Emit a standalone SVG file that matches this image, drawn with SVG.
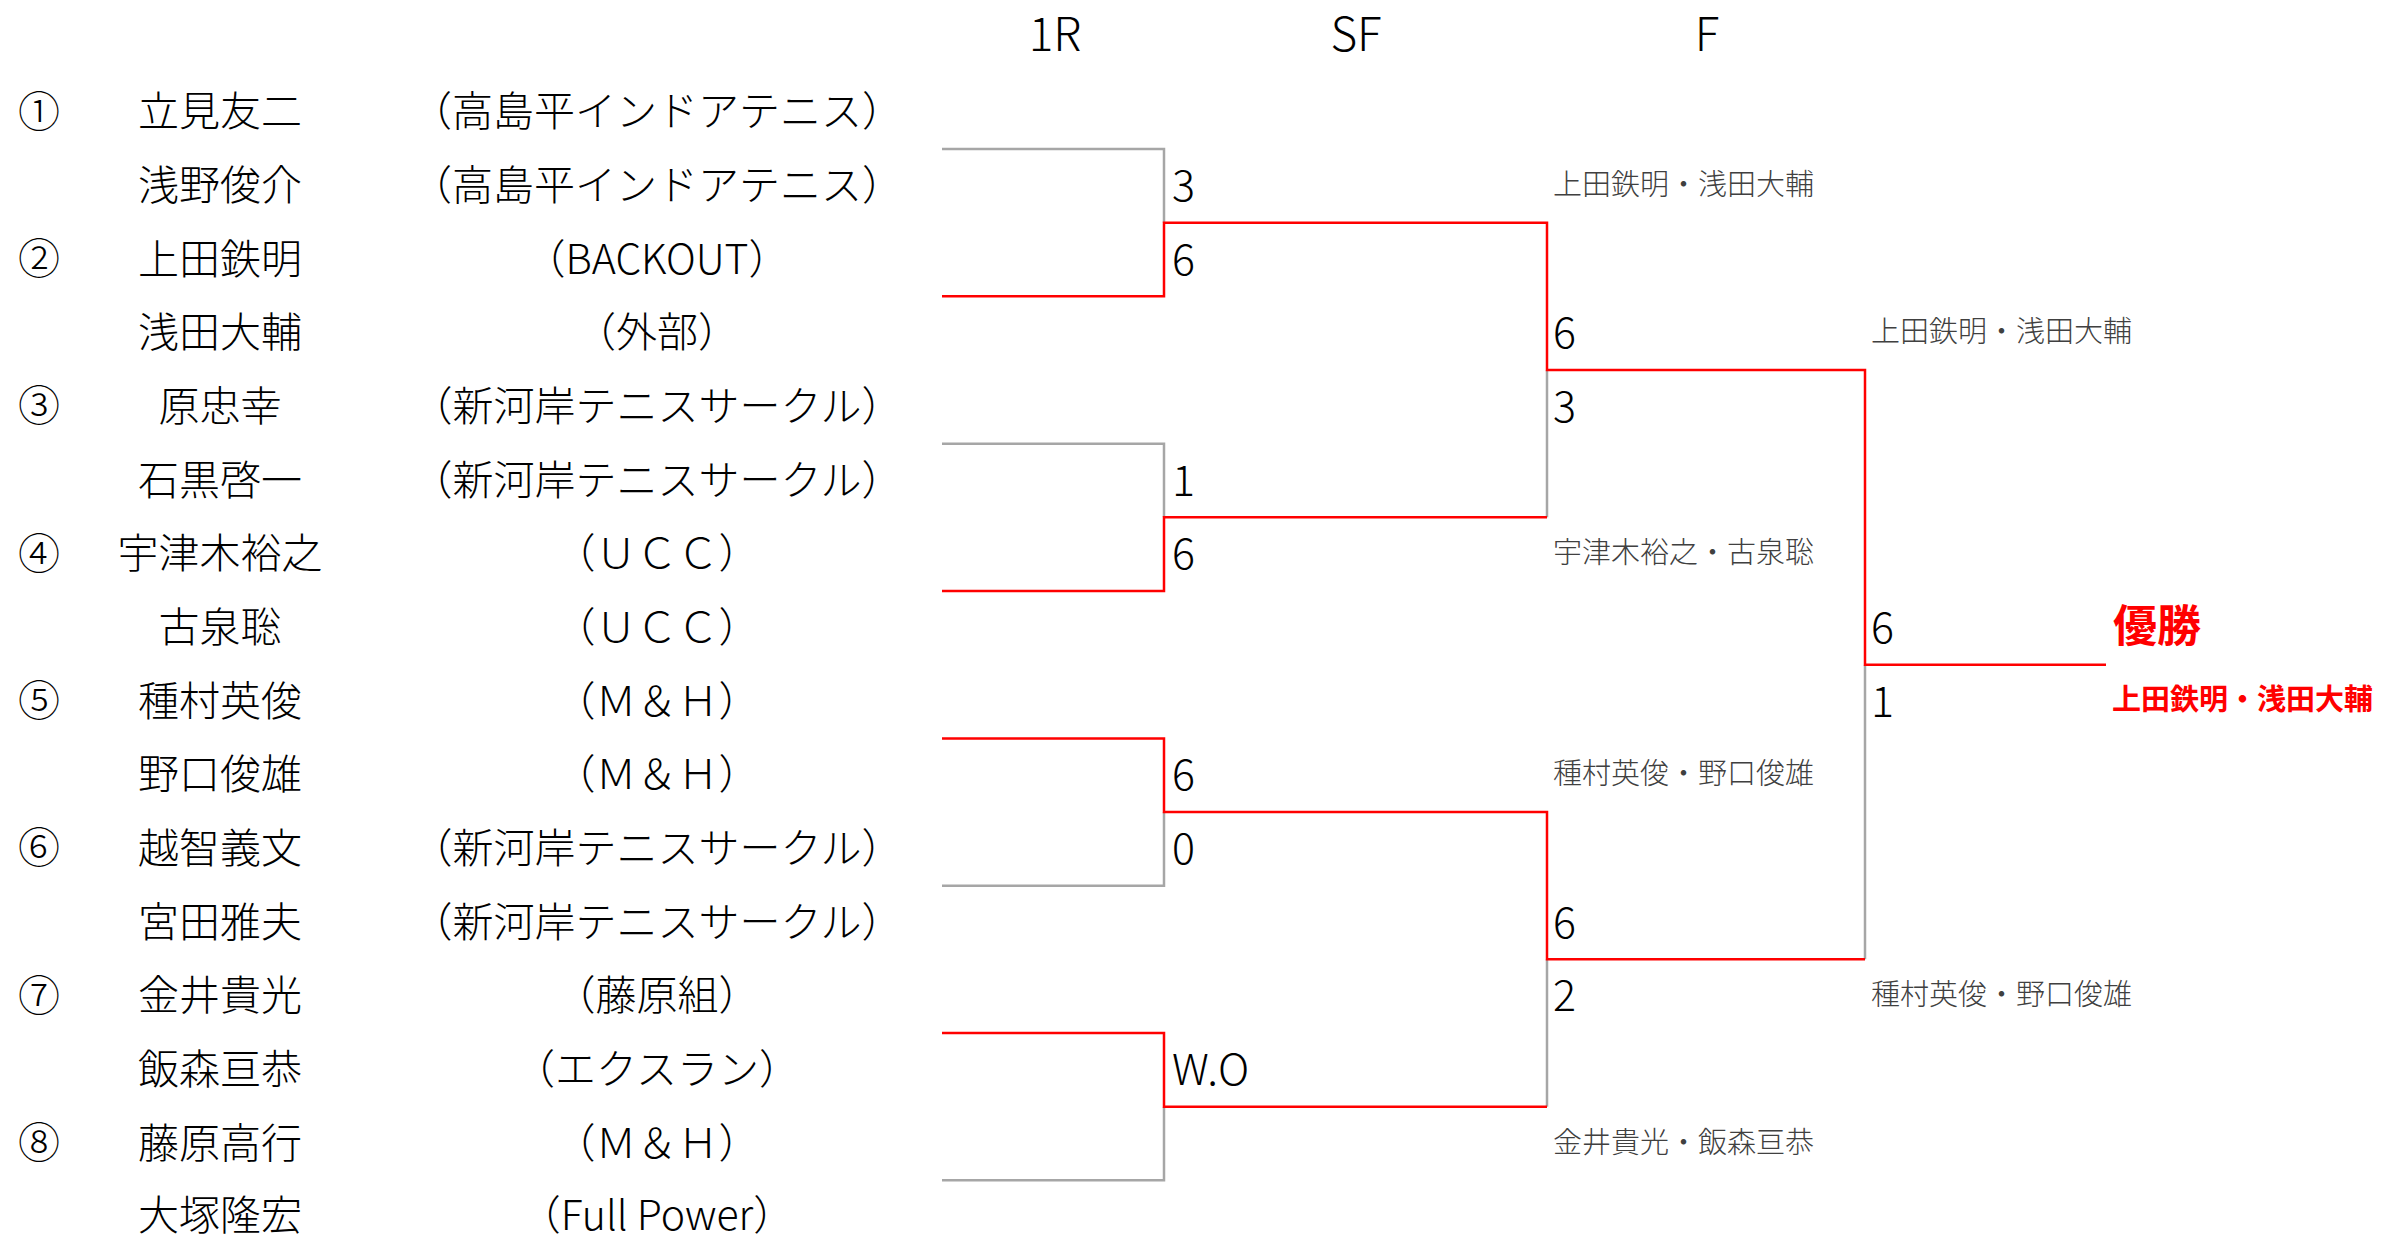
<svg xmlns="http://www.w3.org/2000/svg" width="2383" height="1240" viewBox="0 0 2383 1240">
<style>
text{font-family:"Noto Sans CJK JP","Noto Sans",sans-serif;dominant-baseline:central;fill:#000;font-weight:300}
.hd{font-size:46px;text-anchor:middle}
.seed{font-size:42px;text-anchor:middle}
.nm{font-size:41px;text-anchor:middle}
.tm{font-size:41px;text-anchor:middle}
.sc{font-size:43px}
.pr{font-size:29px;fill:#404040}
.win{font-size:44px;font-weight:bold;fill:#FF0000}
.winp{font-size:29px;font-weight:bold;fill:#FF0000}
.g{fill:none;stroke:#A6A6A6;stroke-width:2.5}
.r{fill:none;stroke:#FF0000;stroke-width:2.5}
</style>
<rect width="2383" height="1240" fill="#FFFFFF"/>
<g id="connectors">
<polyline class="g" points="942,149 1164,149 1164,222.7"/>
<polyline class="g" points="942,443.7 1164,443.7 1164,517.3"/>
<polyline class="g" points="1164,812 1164,885.7 942,885.7"/>
<polyline class="g" points="1164,1106.7 1164,1180.3 942,1180.3"/>
<polyline class="g" points="1547,370 1547,517.3"/>
<polyline class="g" points="1547,959.3 1547,1106.7"/>
<polyline class="g" points="1865,664.7 1865,959.3"/>
<polyline class="r" points="942,296.3 1164,296.3 1164,222.7 1547,222.7 1547,370 1865,370 1865,664.7 2106,664.7"/>
<polyline class="r" points="942,591 1164,591 1164,517.3 1547,517.3"/>
<polyline class="r" points="942,738.4 1164,738.4 1164,812 1547,812 1547,959.3 1865,959.3"/>
<polyline class="r" points="942,1033 1164,1033 1164,1106.7 1547,1106.7"/>
</g>
<g id="labels" transform="translate(0,-4)">
<g id="headers">
<text class="hd" x="1055" y="35">1R</text>
<text class="hd" x="1356" y="35">SF</text>
<text class="hd" x="1707" y="35">F</text>
</g>
<g id="entry1"><text class="seed" x="39" y="112.2">①</text><text class="nm" x="220" y="112.2">立見友二</text><text class="tm" x="657" y="112.2">（高島平インドアテニス）</text></g>
<g id="entry2"><text class="nm" x="220" y="185.9">浅野俊介</text><text class="tm" x="657" y="185.9">（高島平インドアテニス）</text></g>
<g id="entry3"><text class="seed" x="39" y="259.5">②</text><text class="nm" x="220" y="259.5">上田鉄明</text><text class="tm" x="657" y="259.5">（BACKOUT）</text></g>
<g id="entry4"><text class="nm" x="220" y="333.2">浅田大輔</text><text class="tm" x="657" y="333.2">（外部）</text></g>
<g id="entry5"><text class="seed" x="39" y="406.9">③</text><text class="nm" x="220" y="406.9">原忠幸</text><text class="tm" x="657" y="406.9">（新河岸テニスサークル）</text></g>
<g id="entry6"><text class="nm" x="220" y="480.6">石黒啓一</text><text class="tm" x="657" y="480.6">（新河岸テニスサークル）</text></g>
<g id="entry7"><text class="seed" x="39" y="554.2">④</text><text class="nm" x="220" y="554.2">宇津木裕之</text><text class="tm" x="657" y="554.2">（ＵＣＣ）</text></g>
<g id="entry8"><text class="nm" x="220" y="627.9">古泉聡</text><text class="tm" x="657" y="627.9">（ＵＣＣ）</text></g>
<g id="entry9"><text class="seed" x="39" y="701.6">⑤</text><text class="nm" x="220" y="701.6">種村英俊</text><text class="tm" x="657" y="701.6">（Ｍ＆Ｈ）</text></g>
<g id="entry10"><text class="nm" x="220" y="775.2">野口俊雄</text><text class="tm" x="657" y="775.2">（Ｍ＆Ｈ）</text></g>
<g id="entry11"><text class="seed" x="39" y="848.9">⑥</text><text class="nm" x="220" y="848.9">越智義文</text><text class="tm" x="657" y="848.9">（新河岸テニスサークル）</text></g>
<g id="entry12"><text class="nm" x="220" y="922.6">宮田雅夫</text><text class="tm" x="657" y="922.6">（新河岸テニスサークル）</text></g>
<g id="entry13"><text class="seed" x="39" y="996.2">⑦</text><text class="nm" x="220" y="996.2">金井貴光</text><text class="tm" x="657" y="996.2">（藤原組）</text></g>
<g id="entry14"><text class="nm" x="220" y="1069.9">飯森亘恭</text><text class="tm" x="657" y="1069.9">（エクスラン）</text></g>
<g id="entry15"><text class="seed" x="39" y="1143.6">⑧</text><text class="nm" x="220" y="1143.6">藤原高行</text><text class="tm" x="657" y="1143.6">（Ｍ＆Ｈ）</text></g>
<g id="entry16"><text class="nm" x="220" y="1216">大塚隆宏</text><text class="tm" x="657" y="1216">（Full Power）</text></g>
<g id="scores-1r">
<text class="sc" x="1172" y="185.9">3</text>
<text class="sc" x="1172" y="259.5">6</text>
<text class="sc" x="1172" y="480.6">1</text>
<text class="sc" x="1172" y="554.2">6</text>
<text class="sc" x="1172" y="775.2">6</text>
<text class="sc" x="1172" y="848.9">0</text>
<text class="sc" x="1172" y="1069.9">W.O</text>
</g>
<g id="scores-sf">
<text class="sc" x="1553" y="333.2">6</text>
<text class="sc" x="1553" y="406.9">3</text>
<text class="sc" x="1553" y="922.6">6</text>
<text class="sc" x="1553" y="996.2">2</text>
</g>
<g id="scores-f">
<text class="sc" x="1871" y="627.9">6</text>
<text class="sc" x="1871" y="701.6">1</text>
</g>
<g id="pair-sf1"><text class="pr" x="1553" y="185.9">上田鉄明・浅田大輔</text></g>
<g id="pair-sf2"><text class="pr" x="1553" y="554.2">宇津木裕之・古泉聡</text></g>
<g id="pair-sf3"><text class="pr" x="1553" y="775.2">種村英俊・野口俊雄</text></g>
<g id="pair-sf4"><text class="pr" x="1553" y="1143.6">金井貴光・飯森亘恭</text></g>
<g id="pair-f1"><text class="pr" x="1871" y="333.2">上田鉄明・浅田大輔</text></g>
<g id="pair-f2"><text class="pr" x="1871" y="996.2">種村英俊・野口俊雄</text></g>
<g id="champion">
<text class="win" x="2113" y="627">優勝</text>
<text class="winp" x="2112" y="700.5">上田鉄明・浅田大輔</text>
</g>
</g>
</svg>
